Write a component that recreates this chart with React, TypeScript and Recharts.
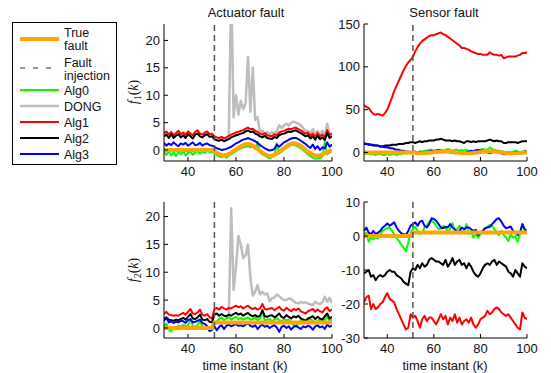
import React from "react";
import { LineChart, Line, XAxis, YAxis, ReferenceLine } from "recharts";

// time instants
const K = [
  30, 31, 32, 33, 34, 35, 36, 37, 38, 39, 40, 41, 42, 43, 44, 45, 46, 47, 48, 49,
  50, 51, 52, 53, 54, 55, 56, 57, 58, 59, 60, 61, 62, 63, 64, 65, 66, 67, 68, 69,
  70, 71, 72, 73, 74, 75, 76, 77, 78, 79, 80, 81, 82, 83, 84, 85, 86, 87, 88, 89,
  90, 91, 92, 93, 94, 95, 96, 97, 98, 99, 100,
];
const X_TICKS = [40, 60, 80, 100];
const FAULT_AT = 51;

// true faults (same in both scenarios)
const trueF1 = [
  0, 0, 0, 0, 0, 0, 0, 0, 0, 0, 0, 0, 0, 0, 0, 0, 0, 0, 0, 0, 0,
  -0.2, -0.5, -0.75, -0.9, -1.0, -0.9, -0.7, -0.45, -0.15, 0.15,
  0.45, 0.7, 0.9, 1.05, 1.1, 1.0, 0.8, 0.5, 0.2, -0.15,
  -0.45, -0.75, -0.95, -1.1, -1.05, -0.9, -0.65, -0.35, 0.0, 0.35,
  0.65, 0.95, 1.15, 1.25, 1.2, 1.0, 0.75, 0.4, 0.05, -0.3,
  -0.6, -0.85, -1.0, -1.05, -0.95, -0.8, -0.6, -0.4, -0.2, 0.0,
];
const trueF2 = [
  0, 0, 0, 0, 0, 0, 0, 0, 0, 0, 0, 0, 0, 0, 0, 0, 0, 0, 0, 0, 0,
  1, 1, 1, 1, 1, 1, 1, 1, 1, 1, 1, 1, 1, 1, 1, 1, 1, 1, 1, 1,
  1, 1, 1, 1, 1, 1, 1, 1, 1, 1, 1, 1, 1, 1, 1, 1, 1, 1, 1, 1,
  1, 1, 1, 1, 1, 1, 1, 1, 1, 1,
];

// actuator fault, f1
const alg0ActF1 = [
  -0.3, -0.9, -0.2, -1.0, -0.4, -1.1, -0.3, -0.8, -0.2, -1.0, -0.5, -0.3, -0.9, -0.4, -0.2, -0.7, -0.3, -0.5, -0.1, -0.4, -0.3,
  -0.6, -0.9, -1.2, -1.3, -1.1, -1.4, -1.0, -0.8, -0.5, -0.2,
  0.1, 0.3, 0.5, 0.6, 0.7, 0.5, 0.6, 0.2, 1.5, -0.5,
  -0.8, -1.0, -1.3, -1.5, -1.3, -1.1, 1.2, -0.6, -0.3, 0.1,
  0.4, 0.7, 0.9, 1.0, 0.8, 0.6, 0.3, 0.0, -0.4, -0.8,
  -1.1, -1.4, -1.6, -1.4, -1.5, -1.2, 1.5, -0.8, -0.5, -0.2,
];
const dongActF1Start = 56;
const dongActF1 = [
  2.0, 2.5, 30, 6, 10,
  6.5, 9, 7.5, 8.5, 17, 7, 15, 5.5, 6, 3.2,
  3.5, 3, 3.3, 3, 3.2, 3, 3.5, 4.5, 4, 4.5,
  4.8, 4.5, 5, 5.2, 5, 4.8, 4.5, 4, 3.5, 3.5,
  3, 3.8, 3, 3.5, 2.8, 3.5, 2.5, 4.8, 3, 3,
];
const alg1ActF1 = [
  3.0, 3.4, 2.8, 3.3, 2.7, 3.1, 3.5, 2.9, 3.2, 2.8, 3.4, 3.0, 2.7, 3.3, 3.6, 3.0, 2.8, 3.2, 3.4, 2.9, 3.0,
  2.5, 2.3, 2.2, 2.4, 2.1, 2.3, 2.6, 2.8, 3.0, 3.2,
  3.3, 3.5, 3.6, 3.9, 4.1, 3.8, 3.9, 3.5, 3.3, 3.0,
  2.8, 3.1, 2.7, 2.6, 2.5, 2.9, 2.7, 3.2, 3.4, 3.5,
  3.7, 3.9, 3.8, 4.0, 4.1, 3.8, 3.6, 3.3, 3.0, 3.2,
  2.6, 3.0, 2.4, 3.1, 2.5, 2.8, 2.3, 3.6, 2.7, 3.0,
];
const alg2ActF1 = [
  2.5, 2.8, 2.2, 2.9, 2.2, 2.6, 2.9, 2.3, 2.7, 2.2, 2.9, 2.5, 2.1, 2.8, 3.0, 2.5, 2.3, 2.7, 2.9, 2.4, 2.5,
  2.0, 1.8, 1.7, 1.9, 1.6, 1.8, 2.0, 2.3, 2.5, 2.7,
  2.8, 3.0, 3.1, 3.4, 3.6, 3.3, 3.4, 3.0, 2.8, 2.5,
  2.3, 2.6, 2.2, 2.1, 2.0, 2.4, 2.2, 2.7, 2.9, 3.0,
  3.2, 3.4, 3.3, 3.5, 3.6, 3.3, 3.1, 2.8, 2.5, 2.7,
  2.1, 2.5, 1.9, 2.6, 2.0, 2.3, 1.8, 3.1, 2.2, 2.5,
];
const alg3ActF1 = [
  1.3, 0.8, 1.2, 0.9, 1.4, 1.0, 0.7, 1.2, 1.0, 1.3, 0.8, 1.1, 1.4, 0.9, 1.0, 1.3, 0.8, 1.1, 1.2, 0.9, 0.8,
  0.6, 0.3, 0.2, 0.0, 0.1, 0.2, 0.4, 0.6, 0.9, 1.2,
  1.4, 1.7, 1.9, 2.0, 2.2, 2.0, 1.8, 1.6, 1.3, 0.9,
  0.6, 0.3, 0.1, -0.1, 0.0, 0.2, 1.0, 0.6, 1.0, 1.4,
  1.6, 1.9, 2.1, 2.2, 2.2, 2.0, 1.7, 1.4, 1.1, 0.7,
  0.4, 1.0, 0.2, 0.7, 0.0, 0.5, 0.3, 1.4, 0.6, 1.0,
];

// sensor fault, f1
const alg0SenF1 = [
  -1, -2, -1, -2, -2, -3, -2, -2, -3, -3, -2, -3, -2, -2, -3, -2, -2, -1, -1, -1, 0,
  0, 1, 0, 1, 1, 2, 2, 3, 3, 2,
  3, 2, 3, 2, 3, 4, 3, 2, 3, 3,
  2, 3, 2, 3, 2, 1, 2, 3, 2, 3,
  4, 3, 3, 6, 4, 3, 2, 2, 1, 1,
  0, 1, 0, 1, 2, 1, 0, 1, 2, 1,
];
const alg1SenF1 = [
  55, 53, 52, 48, 45, 44, 45, 44, 43, 46,
  50, 57, 64, 72, 78, 84, 90, 96, 101, 105,
  108, 112, 118, 123, 127, 130, 132, 134, 136, 137,
  137, 138, 139, 140, 138, 137, 135, 133, 131, 129,
  127, 125, 122, 122, 121, 120, 118, 117, 116, 115,
  115, 114, 114, 114, 117, 115, 114, 114, 113, 114,
  110, 111, 112, 112, 112, 112, 113, 114, 116, 116,
  117,
];
const alg2SenF1 = [
  10, 10, 9, 9, 8, 8, 8, 7, 7, 8,
  8, 8, 9, 9, 9, 10, 10, 10, 11, 11,
  12, 12, 11, 12, 13, 12, 13, 13, 14, 14,
  14, 15, 15, 16, 15, 14, 14, 14, 13, 14,
  13, 13, 12, 11, 13, 13, 12, 13, 12, 13,
  13, 13, 13, 14, 15, 14, 13, 14, 13, 13,
  11, 11, 12, 12, 12, 12, 11, 12, 13, 13,
  13,
];
const alg3SenF1 = [
  11, 10, 10, 9, 9, 8, 8, 7, 7, 6, 6, 5, 5, 4, 3, 3, 2, 2, 1, 1, 0,
  0, 1, 0, 1, 0, 0, 1, 1, 2, 1,
  2, 3, 2, 1, 2, 1, 0, 0, -1, 0,
  1, 0, -1, 0, 1, 2, 1, 2, 3, 2,
  2, 1, 0, -1, 0, 1, 1, 0, -1, -2,
  -2, -1, -1, 0, 0, 1, 0, 0, 1, 1,
];

// actuator fault, f2
const alg0ActF2 = [
  0.3, 0.8, -0.3, -0.6, 0.2, -0.3, 0.4, 0.2, 0.6, 0.3,
  0.5, 1.5, 0.4, 0.1, 0.6, 1.2, 0.3, -0.2, 0.0, -0.6,
  -0.4, 0.8, 1.2, 1.6, 1.9, 1.4, 1.7, 1.9, 1.5, 1.8,
  2.0, 1.6, 1.8, 1.5, 1.7, 1.9, 1.5, 1.6, 1.8, 1.4,
  1.7, 3.0, 1.3, 1.5, 1.6, 1.2, 1.5, 1.8, 1.4, 1.2,
  1.6, 1.4, 1.5, 1.0, 0.5, 0.2, 0.9, 1.3, 1.5, 1.1,
  1.4, 1.6, 1.3, 1.0, 1.2, 1.5, 1.1, 1.4, 2.0, 1.3,
  1.5,
];
const dongActF2Start = 57;
const dongActF2 = [
  2.0, 21.5, 6.8, 11,
  16.5, 15, 12.5, 13, 15, 9, 5.8, 6.5, 7.7, 6.0,
  6.5, 6.0, 6.2, 4.8, 5.3, 5.5, 6.0, 5.7, 5.3, 5.0,
  5.0, 5.3, 5.2, 4.8, 4.5, 4.4, 4.7, 4.5, 4.6, 4.4,
  4.2, 4.1, 4.7, 4.4, 4.3, 4.6, 5.6, 4.7, 5.4, 4.5,
];
const alg1ActF2 = [
  2.5, 2.9, 2.4, 2.3, 2.2, 2.3, 2.2, 2.5, 2.7, 2.4,
  2.9, 3.4, 2.6, 2.5, 2.8, 3.3, 2.4, 2.2, 2.5, 1.9,
  1.7, 3.4, 3.6, 3.3, 3.8, 3.5, 3.3, 3.6, 3.5, 3.8,
  4.0, 3.7, 3.9, 3.5, 3.8, 4.0, 3.6, 3.4, 3.6, 3.3,
  3.5, 4.3, 3.4, 3.3, 3.5, 3.6, 3.2, 3.5, 3.8, 3.3,
  3.1, 3.6, 3.3, 3.0, 3.4, 3.2, 3.5, 3.0, 2.8, 2.6,
  3.0, 3.2, 3.4, 2.9, 3.3, 3.0, 2.8, 3.4, 3.7, 3.0,
  3.3,
];
const alg2ActF2 = [
  1.6, 1.9, 1.5, 1.4, 1.3, 1.5, 1.4, 1.6, 1.8, 1.5,
  2.0, 2.5, 1.7, 1.6, 1.9, 2.4, 1.5, 1.4, 1.6, 1.1,
  1.0, 2.4, 2.6, 2.2, 2.5, 2.2, 2.1, 2.4, 2.2, 2.5,
  2.7, 2.4, 2.6, 2.2, 2.5, 2.7, 2.3, 2.1, 2.3, 2.0,
  2.2, 3.2, 2.1, 2.0, 2.2, 2.3, 1.9, 2.2, 2.6, 2.0,
  1.8, 2.3, 2.0, 1.7, 2.1, 1.9, 2.2, 1.7, 1.5, 1.3,
  1.7, 1.9, 2.1, 1.6, 2.0, 1.7, 1.5, 2.1, 2.6, 1.7,
  2.0,
];
const alg3ActF2 = [
  1.3, 1.8, 1.0, 1.2, 0.9, 1.1, 1.0, 1.3, 1.2, 0.9,
  1.4, 1.6, 1.0, 1.1, 1.3, 1.5, 0.9, 0.7, 0.3, -0.5,
  -0.3, 0.3, -0.4, 0.2, 0.5, -0.2, 0.4, 0.6, 0.3, 0.5,
  0.7, 0.4, 0.5, 0.3, 0.6, 0.8, 0.4, 0.2, 0.5, -0.2,
  0.3, 0.6, 0.2, 0.4, 0.0, 0.3, 0.5, 0.1, -0.7, 0.2,
  0.4, 0.0, 0.3, -0.3, 0.2, 0.4, 0.1, -0.2, 0.3, 0.1,
  0.4, 0.2, -0.3, 0.3, 0.5, 0.1, 0.3, -0.2, 0.6, 0.2,
  0.4,
];

// sensor fault, f2
const alg0SenF2 = [
  0.3, 1.0, -1.7, -0.5, -1.0, -0.3, -0.7, 0.5, 1.5, 2.0,
  2.3, 2.5, 1.5, 0.5, -0.5, -1.5, -2.5, -3.5, -4.5, -2.0,
  1.0, 2.0, 2.7, 1.5, 0.5, 1.0, 2.5, 3.0, 4.2, 4.5,
  4.0, 3.0, 2.0, 2.2, 3.0, 2.5, 1.0, 2.2, 3.8, 1.5,
  2.0, 3.0, 1.0, 1.5, 3.5, 0.5, 1.5, -0.5, 0.5, -0.5,
  0.5, 1.5, 2.2, 2.7, 3.2, 3.0, 2.0, 1.0, 0.3, 1.5,
  0.3, -0.5, -1.5, 0.5, -0.5, 0.0, -1.7, 0.5, 3.5, 1.5,
  1.0,
];
const alg1SenF2 = [
  -19.5, -18, -17.5, -21.5, -20, -21.5, -21, -20, -19.5, -18,
  -16.8, -18.5, -19, -19.5, -21.5, -23, -24.5, -26, -27.5, -27,
  -23, -24, -23.5, -25, -27, -24.5, -23.5, -25, -24, -24,
  -25, -26, -24.5, -23, -24.5, -23.5, -26, -24, -25, -23,
  -25.5, -24, -26, -25, -24.5, -25.5, -24, -26, -27, -26,
  -24.5, -24, -23.5, -22, -23, -22.5, -21.5, -21, -21.5, -22.5,
  -23, -23.5, -23, -24, -25, -26, -27, -27.5, -22.5, -24,
  -24.5,
];
const alg2SenF2 = [
  -11, -10.5, -10, -12, -11.5, -13, -12, -11.5, -12, -11.5,
  -10.5, -10, -10.5, -10.5, -11.5, -12, -12.5, -13.5, -14, -14.5,
  -10.5, -9.5, -10, -8.5, -9.5, -8, -9, -8.5, -7, -6.5,
  -7, -7.5, -7.5, -8, -8.5, -7, -9, -8, -6.5, -8.5,
  -7.5, -7, -8.5, -8, -9.5, -8, -9, -10.5, -11.5, -12,
  -11, -9.5, -8.5, -8, -8.5, -7.5, -7, -8.5, -7.5, -8,
  -8.5, -9, -10.5, -11, -12, -10, -11, -12, -8, -9,
  -9.5,
];
const alg3SenF2 = [
  1.5, 2.5, 1.0, 0.5, 1.5, 0.5, 1.0, 1.5, 2.5, 3.0,
  3.7, 3.0, 3.5, 4.0, 2.5, 1.5, 0.8, 0.5, 0.3, 1.5,
  3.0, 3.5, 4.0, 3.0, 4.2, 4.5, 3.0, 2.5, 3.5, 5.2,
  5.0, 4.5, 3.5, 2.5, 2.3, 2.7, 2.5, 3.5, 2.5, 2.0,
  1.0, 1.5, 2.5, 2.0, 2.5, 2.5, 2.0, 1.5, 1.8, 0.3,
  1.0, 1.5, 2.3, 2.5, 2.7, 3.5, 4.2, 5.0, 5.2, 4.2,
  3.0, 2.3, 2.5, 2.8, 1.5, 1.0, 0.3, 1.0, 3.5, 2.0,
  1.5,
];

const SANS = '"Liberation Sans", Arial, Helvetica, sans-serif';
const SERIF = '"Liberation Serif", "Times New Roman", serif';

const SERIES = [
  { key: "dong", name: "DONG", color: "#bdbdbd", width: 2.5 },
  { key: "alg0", name: "Alg0", color: "#00ff00", width: 2 },
  { key: "alg1", name: "Alg1", color: "#ff0000", width: 2 },
  { key: "alg2", name: "Alg2", color: "#000000", width: 2 },
  { key: "alg3", name: "Alg3", color: "#0000ff", width: 2 },
  { key: "truth", name: "True fault", color: "#ffa500", width: 4 },
];

function buildRows(
  cols: Record<string, number[]>,
  dong?: { start: number; values: number[] }
) {
  return K.map((k, i) => {
    const row: Record<string, number | null> = { k };
    for (const name of Object.keys(cols)) row[name] = cols[name][i];
    if (dong) row.dong = k >= dong.start ? dong.values[k - dong.start] : null;
    return row;
  });
}

const rowsActF1 = buildRows(
  { truth: trueF1, alg0: alg0ActF1, alg1: alg1ActF1, alg2: alg2ActF1, alg3: alg3ActF1 },
  { start: dongActF1Start, values: dongActF1 }
);
const rowsSenF1 = buildRows({ truth: trueF1, alg0: alg0SenF1, alg1: alg1SenF1, alg2: alg2SenF1, alg3: alg3SenF1 });
const rowsActF2 = buildRows(
  { truth: trueF2, alg0: alg0ActF2, alg1: alg1ActF2, alg2: alg2ActF2, alg3: alg3ActF2 },
  { start: dongActF2Start, values: dongActF2 }
);
const rowsSenF2 = buildRows({ truth: trueF2, alg0: alg0SenF2, alg1: alg1SenF2, alg2: alg2SenF2, alg3: alg3SenF2 });

// ticks drawn inward, matlab style
const YTick = (props: any) => {
  const { x, y, payload } = props;
  return (
    <g>
      <line x1={x + 4} x2={x + 8} y1={y} y2={y} stroke="#000" />
      <text x={x} y={y} dy="0.35em" textAnchor="end" fontSize={13} fontFamily={SANS} fill="#111">
        {payload.value}
      </text>
    </g>
  );
};

const XTick = (props: any) => {
  const { x, y, payload } = props;
  return (
    <g>
      <line x1={x} x2={x} y1={y - 6} y2={y - 10} stroke="#000" />
      <text x={x} y={y} dy="0.71em" textAnchor="middle" fontSize={13} fontFamily={SANS} fill="#111">
        {payload.value}
      </text>
    </g>
  );
};

type PanelProps = {
  left: number;
  top: number;
  width: number;
  height: number;
  padTop: number;
  yDomain: [number, number];
  yTicks: number[];
  rows: Record<string, number | null>[];
  hasDong: boolean;
};

function Panel({ left, top, width, height, padTop, yDomain, yTicks, rows, hasDong }: PanelProps) {
  const shown = SERIES.filter((s) => hasDong || s.key !== "dong");
  return (
    <div style={{ position: "absolute", left, top }}>
      <LineChart width={width} height={height} data={rows} margin={{ top: padTop, right: 14, bottom: 0, left: 0 }}>
        <XAxis
          type="number"
          dataKey="k"
          domain={[30, 100]}
          ticks={X_TICKS}
          interval={0}
          height={30}
          tickSize={0}
          tickMargin={6}
          tickLine={false}
          axisLine={{ stroke: "#000" }}
          tick={XTick}
          allowDataOverflow
        />
        <YAxis
          type="number"
          domain={yDomain}
          ticks={yTicks}
          interval={0}
          width={44}
          tickSize={0}
          tickMargin={4}
          tickLine={false}
          axisLine={{ stroke: "#000" }}
          tick={YTick}
          allowDataOverflow
        />
        {shown.map((s) => (
          <Line
            key={s.key}
            type="linear"
            dataKey={s.key}
            stroke={s.color}
            strokeWidth={s.width}
            strokeLinejoin="round"
            dot={false}
            activeDot={false}
            isAnimationActive={false}
          />
        ))}
        <ReferenceLine x={FAULT_AT} stroke="#555" strokeWidth={1.5} strokeDasharray="6 4" />
      </LineChart>
    </div>
  );
}

function Caption({ x, y, children, rotate }: { x: number; y: number; children: React.ReactNode; rotate?: boolean }) {
  return (
    <div
      style={{
        position: "absolute",
        left: x,
        top: y,
        transform: `translate(-50%, -50%)${rotate ? " rotate(-90deg)" : ""}`,
        whiteSpace: "nowrap",
        lineHeight: 1,
        fontSize: 13,
        fontFamily: SANS,
        color: "#111",
      }}
    >
      {children}
    </div>
  );
}

function FLabel({ sub }: { sub: string }) {
  return (
    <span style={{ fontFamily: SERIF, fontSize: 14 }}>
      <i>f</i>
      <span style={{ fontSize: 10, verticalAlign: "-3px" }}>{sub}</span>(<i>k</i>)
    </span>
  );
}

function LegendBox() {
  const rowsY = { truth: 39, alg0: 90, dong: 106, alg1: 122, alg2: 138, alg3: 154 } as Record<string, number>;
  const txt = { fontSize: 12.5, fontFamily: SANS, fill: "#111" };
  return (
    <svg width={130} height={170} style={{ position: "absolute", left: 0, top: 0 }}>
      <rect x={12.5} y={22.5} width={104} height={142} fill="#fff" stroke="#000" />
      {SERIES.map((s) => (
        <line key={s.key} x1={20} x2={59} y1={rowsY[s.key]} y2={rowsY[s.key]} stroke={s.color} strokeWidth={s.width} />
      ))}
      <line x1={20} x2={59} y1={68} y2={68} stroke="#333" strokeWidth={1} strokeDasharray="5 8" />
      <text x={64} y={36.5} {...txt}>True</text>
      <text x={64} y={49.5} {...txt}>fault</text>
      <text x={64} y={66.5} {...txt}>Fault</text>
      <text x={64} y={79.5} {...txt}>injection</text>
      <text x={64} y={94.5} {...txt}>Alg0</text>
      <text x={64} y={110.5} {...txt}>DONG</text>
      <text x={64} y={126.5} {...txt}>Alg1</text>
      <text x={64} y={142.5} {...txt}>Alg2</text>
      <text x={64} y={158.5} {...txt}>Alg3</text>
    </svg>
  );
}

export default function App() {
  return (
    <div style={{ position: "absolute", left: 0, top: 0, width: 551, height: 373, background: "#fff", overflow: "hidden" }}>
      <LegendBox />
      <Panel left={120} top={0} width={226} height={191} padTop={24} yDomain={[-2, 23]} yTicks={[0, 5, 10, 15, 20]} rows={rowsActF1} hasDong />
      <Panel left={320} top={0} width={221} height={191} padTop={24} yDomain={[-10, 150]} yTicks={[0, 50, 100, 150]} rows={rowsSenF1} hasDong={false} />
      <Panel left={120} top={180} width={226} height={188} padTop={22} yDomain={[-1.8, 22.6]} yTicks={[0, 5, 10, 15, 20]} rows={rowsActF2} hasDong />
      <Panel left={320} top={180} width={221} height={188} padTop={22} yDomain={[-30, 10]} yTicks={[-30, -20, -10, 0, 10]} rows={rowsSenF2} hasDong={false} />
      <Caption x={246} y={12}>Actuator fault</Caption>
      <Caption x={444} y={12}>Sensor fault</Caption>
      <Caption x={135} y={92} rotate><FLabel sub="1" /></Caption>
      <Caption x={135} y={270} rotate><FLabel sub="2" /></Caption>
      <Caption x={245} y={365}>time instant (k)</Caption>
      <Caption x={445} y={365}>time instant (k)</Caption>
    </div>
  );
}
